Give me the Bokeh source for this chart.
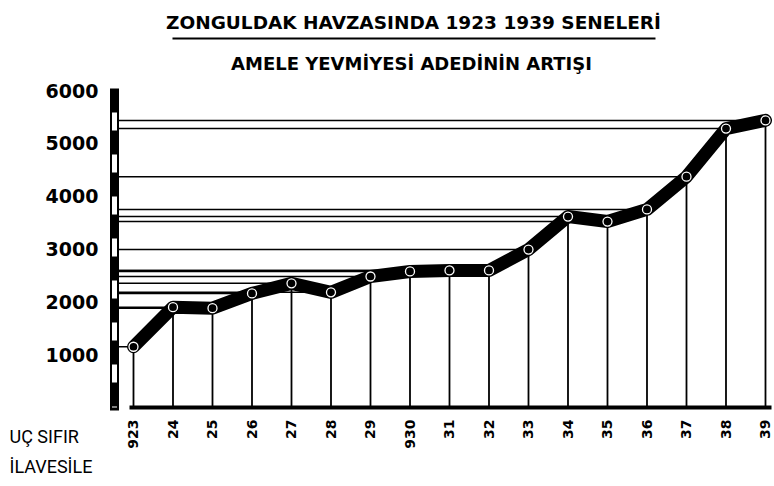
import math
from bokeh.plotting import figure
from bokeh.models import (Range1d, FixedTicker, Label, LinearAxis)
from bokeh.embed import file_html
from bokeh.resources import INLINE

# ---- data ----
years = ["923", "24", "25", "26", "27", "28", "29", "930", "31", "32",
         "33", "34", "35", "36", "37", "38", "39"]
workers = [1150, 1900, 1880, 2160, 2350, 2180, 2480, 2575, 2595, 2595,
           2990, 3615, 3520, 3750, 4370, 5280, 5435]
y_ticks = [1000, 2000, 3000, 4000, 5000, 6000]
title1 = "ZONGULDAK HAVZASINDA 1923 1939 SENELERİ"
title2 = "AMELE YEVMİYESİ ADEDİNİN ARTIŞI"
note1 = "UÇ SIFIR"
note2 = "İLAVESİLE"

xs = list(range(len(years)))

# layout constants
AXIS_X = -0.481          # where the vertical axis bar stands
Y_LO, Y_HI = -57, 6038   # extent of the vertical axis bar

p = figure(width=774, height=486, output_backend="svg", toolbar_location=None,
           x_range=Range1d(-3.367, 16.228), y_range=Range1d(-1495, 7704),
           x_axis_location=None, y_axis_location=None, min_border=0)
p.outline_line_color = None
p.grid.visible = False
p.background_fill_color = "white"

# horizontal lines from axis to each point
p.segment(x0=[AXIS_X] * len(xs), y0=workers, x1=xs, y1=workers,
          line_color="black", line_width=1.5)
# vertical lines from baseline to each point
p.segment(x0=xs, y0=[0] * len(xs), x1=xs, y1=workers,
          line_color="black", line_width=1.8)
# thick line
p.line(xs, workers, line_color="black", line_width=13,
       line_join="round", line_cap="round")
p.scatter(xs, workers, size=9, fill_color="black", line_color="white",
          line_width=1.3)

# y axis
yax = LinearAxis(fixed_location=AXIS_X, bounds=(Y_LO, Y_HI),
                 ticker=FixedTicker(ticks=y_ticks))
yax.axis_line_width = 9
yax.axis_line_color = "black"
yax.major_tick_line_color = None
yax.minor_tick_line_color = None
yax.major_label_standoff = 10
yax.major_label_text_font = "DejaVu Sans"
yax.major_label_text_font_style = "bold"
yax.major_label_text_font_size = "19px"
yax.major_label_text_color = "black"
p.add_layout(yax, "left")

# white dashes inside the axis bar
p.segment(x0=[AXIS_X], y0=[Y_HI], x1=[AXIS_X], y1=[0],
          line_color="white", line_width=5, line_dash="18 24",
          line_dash_offset=18, level="overlay")

# x axis (its line is the base line)
xax = LinearAxis(fixed_location=0, bounds=(xs[0] - 0.1, xs[-1] + 0.15),
                 ticker=FixedTicker(ticks=xs))
xax.major_label_overrides = {i: t for i, t in zip(xs, years)}
xax.major_label_orientation = math.pi / 2
xax.axis_line_color = "black"
xax.axis_line_width = 4
xax.major_tick_line_color = None
xax.minor_tick_line_color = None
xax.major_label_standoff = 6
xax.major_label_text_font = "DejaVu Sans"
xax.major_label_text_font_style = "bold"
xax.major_label_text_font_size = "14px"
xax.major_label_text_color = "black"
p.add_layout(xax, "below")

# titles
p.add_layout(Label(x=7.089, y=7288, text=title1, text_align="center",
                   text_baseline="middle", text_font="DejaVu Sans",
                   text_font_style="bold", text_font_size="18.5px",
                   text_color="black"))
p.segment(x0=[0.987], y0=[6985], x1=[13.215], y1=[6985],
          line_color="black", line_width=2)
p.add_layout(Label(x=7.038, y=6521, text=title2, text_align="center",
                   text_baseline="middle", text_font="DejaVu Sans",
                   text_font_style="bold", text_font_size="18px",
                   text_color="black"))

# note
p.add_layout(Label(x=-3.139, y=-549, text=note1, text_align="left",
                   text_baseline="middle", text_font="Roboto",
                   text_font_size="18px", text_color="black"))
p.add_layout(Label(x=-3.139, y=-1120, text=note2, text_align="left",
                   text_baseline="middle", text_font="Roboto",
                   text_font_size="18px", text_color="black"))

open("out.html", "w").write(file_html(p, INLINE))
